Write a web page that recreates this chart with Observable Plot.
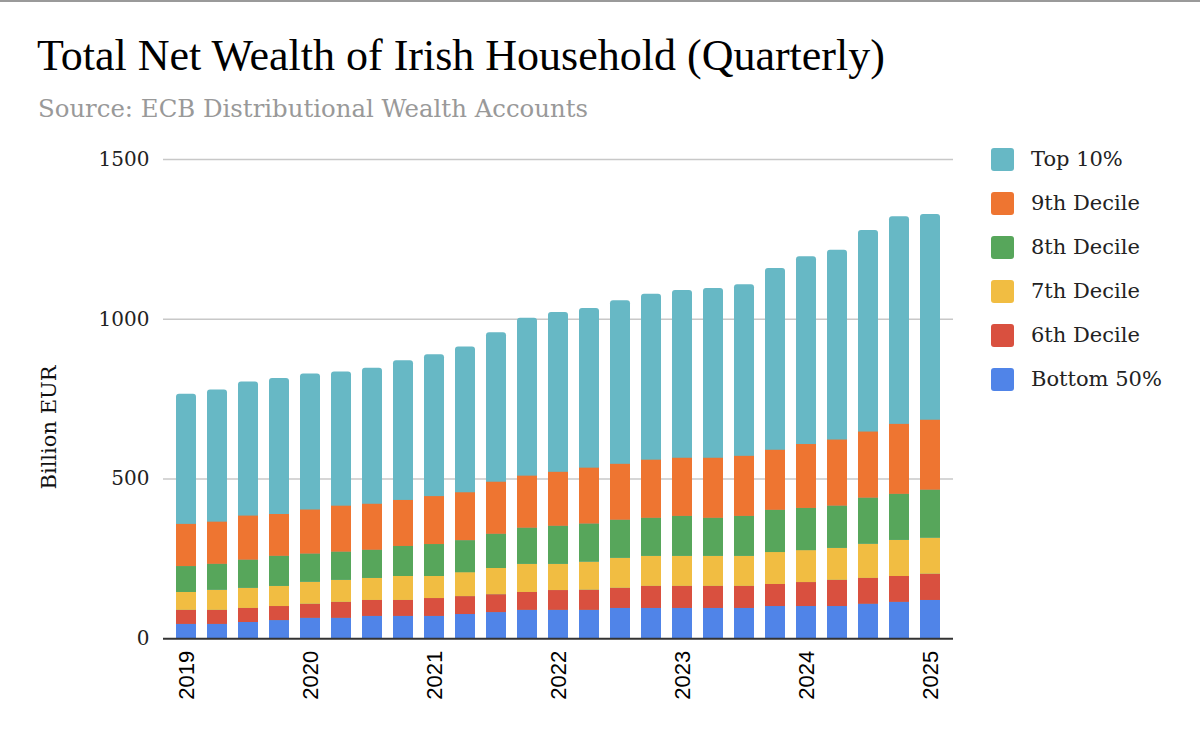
<!DOCTYPE html>
<html>
<head>
<meta charset="utf-8">
<script src="https://cdn.jsdelivr.net/npm/d3@7"></script>
<script src="https://cdn.jsdelivr.net/npm/@observablehq/plot@0.6"></script>
<style>
  html, body { margin: 0; padding: 0; background: #fff; }
  #wrap { position: relative; width: 1200px; height: 742px; overflow: hidden; background: #fff; }
  #topline { position: absolute; left: 0; top: 0; width: 1200px; height: 2px; background: #9a9a9a; }
  #title { position: absolute; left: 37px; top: 34px; font-family: "Liberation Serif", serif; font-size: 44px; line-height: 44px; color: #000; white-space: nowrap; }
  #sub { position: absolute; left: 38px; top: 96.5px; font-family: "DejaVu Serif", serif; font-size: 24.4px; line-height: 24.4px; color: #999; white-space: nowrap; }
  #chart { position: absolute; left: 0; top: 0; }
  #ylabel { position: absolute; left: -51px; top: 417px; width: 200px; text-align: center; font-family: "DejaVu Serif", serif; font-size: 21px; line-height: 21px; color: #111; transform: rotate(-90deg); transform-origin: 50% 50%; white-space: nowrap; }
  #legend { position: absolute; left: 991px; top: 0; }
  .lrow { position: absolute; left: 0; height: 23px; display: flex; align-items: center; white-space: nowrap; }
  .lsw { width: 23px; height: 23px; border-radius: 3px; margin-right: 17px; flex: none; }
  .ltx { font-family: "DejaVu Serif", serif; font-size: 21px; line-height: 21px; color: #222; }
</style>
</head>
<body>
<div id="wrap">
  <div id="chart"></div>
  <div id="topline"></div>
  <div id="title">Total Net Wealth of Irish Household (Quarterly)</div>
  <div id="sub">Source: ECB Distributional Wealth Accounts</div>
  <div id="ylabel">Billion EUR</div>
  <div id="legend"></div>
</div>
<script>
// Quarterly categories (2019 Q1 – 2025 Q1)
const quarters = [
  "2019Q1","2019Q2","2019Q3","2019Q4",
  "2020Q1","2020Q2","2020Q3","2020Q4",
  "2021Q1","2021Q2","2021Q3","2021Q4",
  "2022Q1","2022Q2","2022Q3","2022Q4",
  "2023Q1","2023Q2","2023Q3","2023Q4",
  "2024Q1","2024Q2","2024Q3","2024Q4",
  "2025Q1"
];
const xTickQuarters = ["2019Q1","2020Q1","2021Q1","2022Q1","2023Q1","2024Q1","2025Q1"];
const yTicks = [0, 500, 1000, 1500];

// Series values, billion EUR
const bottom50 = [45,45,51,57,64,64,70,70,70,76,82,89,89,89,95,95,95,95,95,101,101,101,108,114,120];
const decile6  = [44,44,44,44,44,50,50,50,56,56,56,56,62,63,63,69,69,69,69,69,75,82,81,81,82];
const decile7  = [56,63,63,63,69,69,69,75,69,75,82,88,82,88,94,94,94,94,94,100,100,100,107,113,113];
const decile8  = [81,81,88,94,88,88,88,94,100,100,107,113,119,119,119,119,125,119,125,132,132,132,144,144,150];
const decile9  = [132,132,138,131,138,144,144,144,150,150,163,163,169,175,175,182,182,188,188,188,200,207,207,219,219];
const top10    = [407,414,420,426,426,420,426,437,444,456,468,494,500,500,512,519,525,531,537,569,588,594,631,650,644];

// Series names (bottom to top) and colours
const seriesNames = ["Bottom 50%","6th Decile","7th Decile","8th Decile","9th Decile","Top 10%"];
const seriesColors = ["#5084e8","#d9503f","#f1bd42","#57a65b","#ee7531","#67b8c5"];
const seriesValues = [bottom50, decile6, decile7, decile8, decile9, top10];

// Build tables for Plot
const lowerRows = [];
for (let s = 0; s < 5; s++) {
  quarters.forEach((q, i) => lowerRows.push({quarter: q, series: seriesNames[s], value: seriesValues[s][i]}));
}
const totalRows = quarters.map((q, i) => ({
  quarter: q,
  total: seriesValues.reduce((acc, arr) => acc + arr[i], 0)
}));

const chart = Plot.plot({
  width: 1200,
  height: 742,
  marginTop: 159,
  marginBottom: 103.7,
  marginLeft: 163,
  marginRight: 247,
  style: {background: "transparent", fontFamily: "DejaVu Serif", fontSize: "20px", color: "#222"},
  x: {type: "band", domain: quarters, paddingInner: 0.36, paddingOuter: 0.35, label: null},
  y: {domain: [0, 1500], label: null},
  color: {domain: seriesNames, range: seriesColors},
  marks: [
    Plot.ruleY([500, 1000, 1500], {stroke: "#c8c8c8", strokeWidth: 1.5}),
    Plot.barY(totalRows, {x: "quarter", y: "total", fill: seriesColors[5], rx: 3}),
    Plot.barY(lowerRows, {x: "quarter", y: "value", fill: "series", order: seriesNames}),
    Plot.ruleY([0], {stroke: "#333", strokeWidth: 2}),
    Plot.axisY({ticks: yTicks, tickFormat: d => String(d), tickSize: 0, tickPadding: 14, label: null, fontFamily: "DejaVu Serif", fontSize: 20, fill: "#222"}),
    Plot.axisX({ticks: xTickQuarters, tickFormat: d => d.slice(0, 4), tickRotate: -90, tickSize: 0, tickPadding: 12, label: null, fontFamily: "Liberation Sans", fontSize: 22, fill: "#000"})
  ]
});
document.getElementById("chart").appendChild(chart);

// Legend (top of stack first)
const legend = document.getElementById("legend");
const legendOrder = [5, 4, 3, 2, 1, 0];
legendOrder.forEach((s, k) => {
  const row = document.createElement("div");
  row.className = "lrow";
  row.style.top = (148 + k * 44) + "px";
  const sw = document.createElement("div");
  sw.className = "lsw";
  sw.style.background = seriesColors[s];
  const tx = document.createElement("span");
  tx.className = "ltx";
  tx.textContent = seriesNames[s];
  row.appendChild(sw);
  row.appendChild(tx);
  legend.appendChild(row);
});
</script>
</body>
</html>
